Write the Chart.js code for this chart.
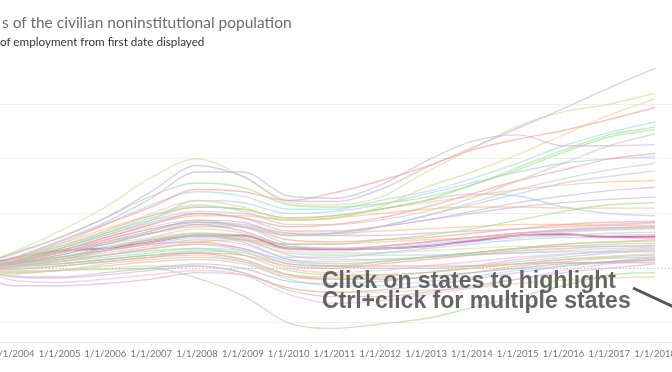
<!DOCTYPE html>
<html>
<head>
<meta charset="utf-8">
<script src="https://cdn.jsdelivr.net/npm/chart.js@4.4.1/dist/chart.umd.min.js"></script>
<style>
    body { margin: 0; width: 672px; height: 372px; overflow: hidden; position: relative; background: #fff; font-family: Lato, sans-serif; }
    #wrap { position: absolute; left: -100px; top: 0; width: 800px; height: 372px; }
    .title { position: absolute; left: 2px; top: 13px; font-size: 15.5px; color: #6d6d6d; white-space: nowrap; }
    .subtitle { position: absolute; left: 0; top: 34px; font-size: 11.7px; color: #333; white-space: nowrap; }
    .note { position: absolute; left: 322px; top: 270px; font: bold 23px/20px "Liberation Sans", Arial, sans-serif; color: rgba(88, 88, 88, 0.92); white-space: nowrap; }
    svg { position: absolute; left: 0; top: 0; }
</style>
</head>
<body>
<div id="wrap"><canvas id="chart" width="800" height="372"></canvas></div>
<div class="title">s of the civilian noninstitutional population</div>
<div class="subtitle">of employment from first date displayed</div>
<div class="note">Click on states to highlight<br>Ctrl+click for multiple states</div>
<svg width="672" height="372"><line x1="633" y1="288" x2="674" y2="307" stroke="#555" stroke-width="3"/></svg>
<script>
// dates (1 Jan of each year) and % change of employment since the first date
const years = [2003, 2004, 2005, 2006, 2007, 2008, 2009, 2010, 2011, 2012, 2013, 2014, 2015, 2016, 2017, 2018];
const tickYears = [2004, 2005, 2006, 2007, 2008, 2009, 2010, 2011, 2012, 2013, 2014, 2015, 2016, 2017, 2018];
const yGrid = [-5, 0, 5, 10, 15];

const highlighted = [0, 0.9, 1.6, 1.8, 2.4, 3.0, 3.0, 1.8, 1.75, 1.8, 2.0, 2.5, 3.0, 3.1, 2.85, 2.9];

const s1  = [0, 1.3, 2.8, 4.6, 7.0, 9.4, 8.4, 6.2, 6.1, 7.2, 9.2, 11.0, 12.8, 14.6, 16.5, 18.3];
const s2  = [0, 1.0, 2.5, 4.2, 6.4, 8.8, 8.8, 6.6, 6.4, 7.6, 9.8, 11.6, 12.2, 11.2, 11.2, 11.3];
const s3  = [0, 1.5, 3.4, 5.6, 8.3, 10.0, 8.4, 6.0, 5.8, 6.5, 8.8, 10.9, 13.0, 14.3, 15.0, 16.0];
const s4  = [0, 0.8, 2.0, 3.4, 5.0, 6.2, 5.6, 4.4, 4.6, 5.6, 7.4, 8.8, 10.4, 12.2, 14.0, 15.5];
const s5  = [0, 0.9, 2.4, 4.0, 5.6, 7.2, 7.0, 6.2, 6.9, 8.0, 9.3, 10.8, 11.8, 12.6, 13.6, 14.7];
const s6  = [0, 0.8, 2.2, 4.0, 5.8, 7.0, 6.6, 5.4, 5.4, 6.2, 7.0, 8.2, 9.6, 11.2, 12.4, 13.4];
const s7  = [0, 1.4, 2.8, 4.6, 6.6, 7.8, 7.4, 5.8, 5.6, 5.9, 6.5, 7.6, 9.2, 10.8, 12.2, 12.9];
const s8  = [0, 0.7, 1.8, 3.2, 4.6, 5.6, 5.4, 4.6, 4.8, 5.4, 6.2, 7.6, 9.0, 10.6, 12.0, 12.7];
const s9  = [0, 0.8, 2.0, 3.4, 4.8, 5.8, 5.2, 4.0, 4.0, 4.4, 5.2, 6.4, 8.0, 9.6, 11.2, 12.3];
const s10 = [0, 0.6, 1.6, 2.8, 4.0, 5.0, 4.6, 3.8, 4.0, 4.6, 5.6, 6.8, 8.0, 9.0, 10.0, 10.5];
const s11 = [0, 0.8, 1.8, 3.0, 4.4, 6.2, 6.0, 5.0, 5.2, 5.8, 6.8, 7.8, 8.8, 9.6, 10.0, 10.2];
const s12 = [0, 0.6, 1.4, 2.4, 3.4, 4.2, 3.8, 3.0, 3.0, 3.8, 4.8, 6.0, 7.2, 8.2, 9.0, 9.6];
const s13 = [0, 0.6, 1.4, 2.2, 3.2, 4.0, 3.8, 3.0, 3.2, 3.8, 4.8, 5.8, 6.8, 7.8, 8.4, 8.9];
const s14 = [0, 0.9, 2.2, 3.6, 4.8, 5.6, 5.4, 4.6, 4.8, 5.4, 6.0, 6.6, 7.2, 7.6, 7.9, 8.0];
const s15 = [0, 0.5, 1.4, 2.4, 3.4, 4.4, 4.2, 3.0, 3.2, 3.8, 4.4, 5.2, 6.0, 6.6, 7.1, 7.4];
const s16 = [0, 0.7, 1.8, 3.0, 4.2, 5.0, 4.6, 3.4, 3.4, 3.8, 4.4, 5.0, 5.6, 6.0, 6.3, 6.5];
const s17 = [0, 0.4, 1.0, 1.8, 2.6, 3.2, 3.0, 2.2, 2.2, 2.6, 3.0, 3.6, 4.4, 5.2, 5.8, 6.0];
const s18 = [0, 0.6, 1.6, 2.8, 4.0, 4.8, 4.8, 4.4, 4.6, 5.0, 5.4, 5.6, 5.6, 5.5, 5.5, 5.5];
const s19 = [0, 0.8, 2.0, 3.2, 4.4, 5.2, 5.0, 4.4, 4.6, 5.4, 6.2, 6.8, 6.6, 5.6, 5.0, 4.8];
const s20 = [0, 0.5, 1.4, 2.6, 3.6, 4.2, 3.8, 2.6, 2.4, 2.6, 2.8, 3.2, 3.6, 4.0, 4.2, 4.3];
const s21 = [0, 0.3, 1.0, 1.8, 2.8, 3.6, 3.2, 2.0, 1.8, 2.0, 2.4, 2.8, 3.2, 3.6, 3.9, 4.1];
const s22 = [0, 0.4, 1.2, 2.2, 3.2, 4.0, 3.4, 2.0, 1.8, 2.0, 2.4, 2.8, 3.2, 3.5, 3.7, 3.8];
const s23 = [0, 0.2, 0.8, 1.6, 2.4, 3.0, 2.8, 1.8, 1.6, 1.8, 2.2, 2.6, 3.0, 3.3, 3.5, 3.6];
const s24 = [0, 0.6, 1.6, 2.8, 3.8, 4.4, 3.8, 2.2, 1.8, 1.8, 2.0, 2.4, 2.8, 3.0, 3.2, 3.3];
const s25 = [0, 0.2, 0.6, 1.2, 1.8, 2.4, 2.6, 2.2, 2.2, 2.4, 2.6, 2.8, 3.0, 3.0, 3.0, 3.1];
const s26 = [0, 0.3, 0.8, 1.4, 2.0, 2.6, 2.2, 1.0, 1.0, 1.4, 1.8, 2.2, 2.6, 2.8, 2.8, 2.7];
const s27 = [0, 0.1, 0.4, 0.8, 1.2, 1.6, 1.4, 0.4, 0.2, 0.6, 1.0, 1.4, 1.8, 2.2, 2.4, 2.5];
const s28 = [0, 0.4, 1.0, 1.8, 2.6, 3.0, 2.4, 0.8, 0.4, 0.6, 1.0, 1.4, 1.8, 2.0, 2.2, 2.3];
const s29 = [0, -0.1, 0.2, 0.6, 1.0, 1.4, 1.2, 0.2, 0.0, 0.4, 0.8, 1.2, 1.6, 1.8, 2.0, 2.1];
const s30 = [0, 0.6, 1.4, 2.2, 2.8, 3.2, 2.8, 1.6, 1.4, 1.4, 1.6, 1.8, 2.0, 2.0, 2.0, 2.0];
const s31 = [0, 0.2, 0.6, 1.0, 1.4, 1.8, 1.6, 0.8, 0.6, 0.8, 1.0, 1.2, 1.4, 1.6, 1.8, 1.9];
const s32 = [0, -0.3, -0.2, 0.2, 0.6, 0.8, 0.4, -0.8, -1.0, -0.8, -0.4, 0.2, 0.8, 1.2, 1.6, 1.8];
const s33 = [0, 0.1, 0.6, 1.2, 1.8, 2.2, 1.6, 0.0, -0.4, -0.2, 0.2, 0.6, 1.0, 1.3, 1.5, 1.6];
const s34 = [0, 0.5, 1.2, 2.0, 2.6, 3.0, 2.6, 1.4, 1.2, 1.2, 1.2, 1.3, 1.4, 1.5, 1.5, 1.5];
const s35 = [0, -0.4, -0.2, 0.4, 0.8, 1.0, 0.6, -0.6, -0.8, -0.6, -0.4, 0.0, 0.4, 0.8, 1.1, 1.3];
const s36 = [0, 0.3, 0.8, 1.2, 1.6, 1.8, 1.2, -0.2, -0.6, -0.6, -0.4, 0.0, 0.4, 0.8, 1.0, 1.2];
const s37 = [0, -0.7, -0.8, -0.4, 0.0, 0.4, 0.0, -1.2, -1.4, -1.2, -0.8, -0.4, 0.2, 0.6, 0.9, 1.0];
const s38 = [0, 0.2, 0.4, 0.8, 1.2, 1.4, 0.8, -0.6, -1.0, -1.0, -0.8, -0.4, 0.0, 0.4, 0.6, 0.8];
const s39 = [0, 0.0, 0.2, 0.6, 1.0, 1.2, 0.6, -1.0, -1.6, -1.6, -1.2, -0.8, -0.2, 0.2, 0.5, 0.7];
const s40 = [0, 0.4, 1.0, 1.6, 2.2, 2.4, 1.8, 0.4, 0.2, 0.2, 0.2, 0.2, 0.4, 0.5, 0.5, 0.5];
const s41 = [0, -0.8, -0.9, -0.6, -0.2, 0.2, -0.4, -2.0, -2.6, -2.6, -2.2, -1.6, -1.0, -0.4, 0.0, 0.4];
const s42 = [0, -0.2, -0.2, 0.0, 0.2, 0.2, -0.4, -1.8, -2.2, -2.2, -2.0, -1.8, -1.4, -1.1, -0.9, -0.8];
const s43 = [0, 0.2, 0.6, 1.2, 1.8, 2.2, 1.8, 0.6, 0.2, 0.0, 0.0, 0.2, 0.6, 1.0, 1.4, 1.7];
const s44 = [0, -1.1, -1.3, -1.0, -0.6, -0.2, -0.6, -2.4, -3.2, -3.0, -2.4, -1.8, -1.0, -0.2, 0.4, 0.8];
const s45 = [0, -1.6, -1.6, -1.4, -1.0, -0.4, -0.6, -1.8, -2.2, -2.0, -1.6, -1.0, -0.4, 0.2, 0.6, 1.0];
const s46 = [0, 0.6, 1.4, 2.4, 3.2, 3.8, 3.8, 3.2, 3.2, 3.4, 3.6, 3.8, 4.0, 4.0, 3.9, 3.9];
const s47 = [0, -0.5, -0.2, -0.1, 0.0, -0.9, -2.5, -5.0, -5.5, -5.1, -4.6, -3.6, -2.6, -1.6, -0.6, -0.4];
const s48 = [0, 0.4, 1.0, 1.6, 2.2, 2.8, 2.6, 1.8, 1.8, 2.0, 2.4, 2.8, 3.2, 3.4, 3.6, 3.7];
const s49 = [0, 0.6, 1.6, 2.6, 3.6, 4.2, 4.0, 3.2, 3.0, 3.0, 3.2, 3.4, 3.6, 3.8, 4.0, 4.2];
const s50 = [0, 0.2, 0.8, 1.6, 2.4, 3.0, 2.6, 1.2, 0.8, 0.8, 1.0, 1.4, 1.8, 2.2, 2.4, 2.6];

const otherStates = [s1, s2, s3, s4, s5, s6, s7, s8, s9, s10, s11, s12, s13, s14, s15, s16, s17,
    s18, s19, s20, s21, s22, s23, s24, s25, s26, s27, s28, s29, s30, s31, s32, s33, s34,
    s35, s36, s37, s38, s39, s40, s41, s42, s43, s44, s45, s46, s47, s48, s49, s50];

// faded tableau colours for the non-highlighted states
const palette = ['#c5b0d5', '#c5b0d5', '#dbdb8d', '#dbdb8d', '#ff9896', '#9edae5', '#98df8a', '#98df8a',
    '#c7c7c7', '#ff9896', '#aec7e8', '#c7c7c7', '#aec7e8', '#ffbb78', '#c5b0d5', '#c5b0d5', '#98df8a',
    '#ffbb78', '#aec7e8', '#ff9896', '#f7b6d2', '#c49c94', '#c7c7c7', '#9edae5', '#ffbb78', '#aec7e8',
    '#98df8a', '#c5b0d5', '#ff9896', '#dbdb8d', '#9edae5', '#c7c7c7', '#f7b6d2', '#aec7e8', '#ffbb78',
    '#98df8a', '#c5b0d5', '#c49c94', '#9edae5', '#ff9896', '#c5b0d5', '#dbdb8d', '#aec7e8', '#f7b6d2',
    '#c5b0d5', '#ffbb78', '#98df8a', '#aec7e8', '#c5b0d5', '#ffbb78'];

function toPoints(values) {
    return years.map((yr, i) => ({ x: yr, y: values[i] }));
}

const datasets = otherStates.map((vals, i) => ({
    data: toPoints(vals),
    borderColor: palette[i] + '99',
    borderWidth: 1.4
}));
datasets.push({ data: toPoints(highlighted), borderColor: '#e462c0', borderWidth: 2 });

// dotted reference line at zero
const zeroLine = {
    id: 'zeroLine',
    beforeDatasetsDraw(chart) {
        const { ctx, chartArea, scales } = chart;
        const py = Math.round(scales.y.getPixelForValue(0)) + 0.5;
        ctx.save();
        ctx.strokeStyle = '#c4c4c4';
        ctx.lineWidth = 1;
        ctx.setLineDash([1.5, 2]);
        ctx.beginPath();
        ctx.moveTo(chartArea.left, py);
        ctx.lineTo(chartArea.right, py);
        ctx.stroke();
        ctx.restore();
    }
};

new Chart(document.getElementById('chart'), {
    type: 'line',
    data: { datasets: datasets },
    plugins: [zeroLine],
    options: {
        responsive: false,
        animation: false,
        layout: { padding: { left: 68, right: 22, top: 55, bottom: 10 } },
        plugins: { legend: { display: false }, tooltip: { enabled: false } },
        elements: {
            point: { radius: 0 },
            line: { cubicInterpolationMode: 'monotone' }
        },
        scales: {
            x: {
                type: 'linear',
                min: 2003,
                max: 2018.5,
                afterBuildTicks: scale => { scale.ticks = tickYears.map(v => ({ value: v })); },
                ticks: {
                    callback: v => '1/1/' + v,
                    font: { family: 'Lato', size: 9.5 },
                    color: '#777',
                    maxRotation: 0,
                    autoSkip: false,
                    padding: 2
                },
                grid: { drawOnChartArea: false, drawTicks: true, tickLength: 4, color: '#e8e8e8' },
                border: { display: true, color: '#e6e6e6' }
            },
            y: {
                min: -6.8,
                max: 19.5,
                afterBuildTicks: scale => { scale.ticks = yGrid.map(v => ({ value: v })); },
                ticks: { display: false },
                grid: {
                    drawTicks: false,
                    color: ctx => (ctx.tick && ctx.tick.value === 0) ? 'rgba(0,0,0,0)' : '#efefef'
                },
                border: { display: false }
            }
        }
    }
});
</script>
</body>
</html>
